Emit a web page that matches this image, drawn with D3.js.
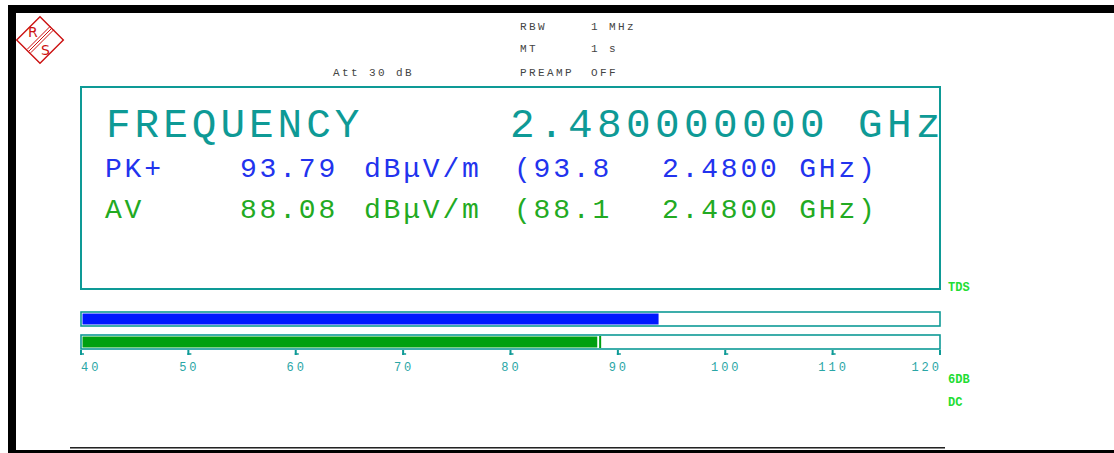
<!DOCTYPE html>
<html>
<head>
<meta charset="utf-8">
<script src="https://cdn.jsdelivr.net/npm/d3@7"></script>
<style>
  body { margin: 0; background: #fff; }
  svg text { font-family: "Liberation Mono", "DejaVu Sans Mono", monospace; }
</style>
</head>
<body>
<div id="chart"></div>
<script>
// readout values
var frequency = "2.480000000 GHz";
var detectors = ["PK+", "AV"];
var levels = [93.79, 88.08];
var maxLevels = ["93.8", "88.1"];
var maxFreqs = ["2.4800 GHz)", "2.4800 GHz)"];
var holdMarks = [null, 88.35];
var unit = "dBμV/m";
// bar graph scale
var scaleDomain = [40, 120];
var tickValues = [40, 50, 60, 70, 80, 90, 100, 110, 120];
// header settings
var headerKeys = ["RBW", "MT", "PREAMP"];
var headerVals = ["1 MHz", "1 s", "OFF"];
var attText = "Att 30 dB";
var sideLabels = ["TDS", "6DB", "DC"];

var width = 1114, height = 453;
var teal = "#0e9a96";
var detColors = ["#2233ee", "#22aa22"];
var barColors = ["#0018ff", "#00a010"];

var svg = d3.select("#chart").append("svg")
    .attr("width", width)
    .attr("height", height);

// black frame of the screen
svg.append("rect").attr("x", 8).attr("y", 5).attr("width", width - 8).attr("height", 8).attr("fill", "#000");
svg.append("rect").attr("x", 8).attr("y", 5).attr("width", 8).attr("height", height - 5).attr("fill", "#000");
svg.append("rect").attr("x", 8).attr("y", 450).attr("width", width - 8).attr("height", 3).attr("fill", "#000");
svg.append("line").attr("x1", 70).attr("x2", 945).attr("y1", 447.5).attr("y2", 447.5).attr("stroke", "#222").attr("stroke-width", 1);
svg.append("line").attr("x1", 70).attr("x2", 945).attr("y1", 448.5).attr("y2", 448.5).attr("stroke", "#888").attr("stroke-width", 1);

// R&S logo
var logo = svg.append("g").attr("transform", "translate(40,40)");
logo.append("rect")
    .attr("x", -16.5).attr("y", -16.5).attr("width", 33).attr("height", 33)
    .attr("transform", "rotate(45)")
    .attr("fill", "none").attr("stroke", "#cc1111").attr("stroke-width", 1.4);
[-2.5, 0, 2.5].forEach(function (o) {
    logo.append("line")
        .attr("x1", -11 + o * 0.7).attr("y1", 11 + o * 0.7)
        .attr("x2", 12 + o * 0.7).attr("y2", -12 + o * 0.7)
        .attr("stroke", "#cc1111").attr("stroke-width", 1);
});
logo.append("text").attr("x", -12).attr("y", -3).text("R")
    .attr("fill", "#cc1111").style("font-family", "DejaVu Sans, sans-serif").style("font-size", "14px");
logo.append("text").attr("x", 1).attr("y", 15).text("S")
    .attr("fill", "#cc1111").style("font-family", "DejaVu Sans, sans-serif").style("font-size", "14px");

// header texts
var hdrY = [30, 52, 76];
headerKeys.forEach(function (k, i) {
    svg.append("text").attr("x", 520).attr("y", hdrY[i]).text(k)
        .attr("fill", "#444").style("font-size", "11px").style("letter-spacing", "2.4px");
    svg.append("text").attr("x", 591).attr("y", hdrY[i]).text(headerVals[i])
        .attr("fill", "#444").style("font-size", "11px").style("letter-spacing", "2.4px");
});
svg.append("text").attr("x", 333).attr("y", 76).text(attText)
    .attr("fill", "#444").style("font-size", "11px").style("letter-spacing", "2.4px");

// readout box
svg.append("rect").attr("x", 81).attr("y", 87).attr("width", 859).attr("height", 202)
    .attr("fill", "none").attr("stroke", teal).attr("stroke-width", 2);

svg.append("text").attr("x", 106).attr("y", 137).text("FREQUENCY")
    .attr("fill", teal).style("font-size", "41px").style("letter-spacing", "4px");
svg.append("text").attr("x", 510).attr("y", 137).text(frequency)
    .attr("fill", teal).style("font-size", "41px").style("letter-spacing", "4.4px");

var rowY = [177, 218];
detectors.forEach(function (d, i) {
    var g = svg.append("g").attr("fill", detColors[i])
        .style("font-size", "28px").style("letter-spacing", "2.8px");
    g.append("text").attr("x", 105).attr("y", rowY[i]).text(d);
    g.append("text").attr("x", 240).attr("y", rowY[i]).text(levels[i].toFixed(2));
    g.append("text").attr("x", 364).attr("y", rowY[i]).text(unit);
    g.append("text").attr("x", 514).attr("y", rowY[i]).text("(" + maxLevels[i]);
    g.append("text").attr("x", 662).attr("y", rowY[i]).text(maxFreqs[i]);
});

// side labels
var sideY = [291, 383, 406];
sideLabels.forEach(function (s, i) {
    svg.append("text").attr("x", 948).attr("y", sideY[i]).text(s)
        .attr("fill", "#22dd33").style("font-size", "12px").style("font-weight", "bold");
});

// bar graphs
var x = d3.scaleLinear().domain(scaleDomain).range([81, 940]);
var barY = [312, 335], barH = 14;

levels.forEach(function (v, i) {
    svg.append("rect").attr("x", x(scaleDomain[0])).attr("y", barY[i])
        .attr("width", x(scaleDomain[1]) - x(scaleDomain[0])).attr("height", barH)
        .attr("fill", "#fff").attr("stroke", teal).attr("stroke-width", 1.6);
    svg.append("rect").attr("x", x(scaleDomain[0]) + 1.5).attr("y", barY[i] + 1.5)
        .attr("width", x(v) - x(scaleDomain[0]) - 1.5).attr("height", barH - 3)
        .attr("fill", barColors[i]);
    if (holdMarks[i] != null) {
        svg.append("rect").attr("x", x(holdMarks[i]) - 1).attr("y", barY[i] + 1)
            .attr("width", 2).attr("height", barH - 2)
            .attr("fill", barColors[i]);
    }
});

// scale ticks and labels
var axisG = svg.append("g");
tickValues.forEach(function (t, i) {
    var tx = x(t);
    axisG.append("line").attr("x1", tx).attr("x2", tx).attr("y1", 350).attr("y2", 355)
        .attr("stroke", teal).attr("stroke-width", 2);
    if (i < tickValues.length - 1) {
        axisG.append("line").attr("x1", tx - 1).attr("x2", tx + 3).attr("y1", 354).attr("y2", 354)
            .attr("stroke", teal).attr("stroke-width", 1.5);
    }
    var anchor = i === 0 ? "start" : (i === tickValues.length - 1 ? "end" : "middle");
    axisG.append("text").attr("x", i === 0 ? tx : (i === tickValues.length - 1 ? tx + 2 : tx + 1))
        .attr("y", 371).text(t).attr("text-anchor", anchor)
        .attr("fill", "#2aa6a6").style("font-size", "12px").style("letter-spacing", "3px");
});
</script>
</body>
</html>
